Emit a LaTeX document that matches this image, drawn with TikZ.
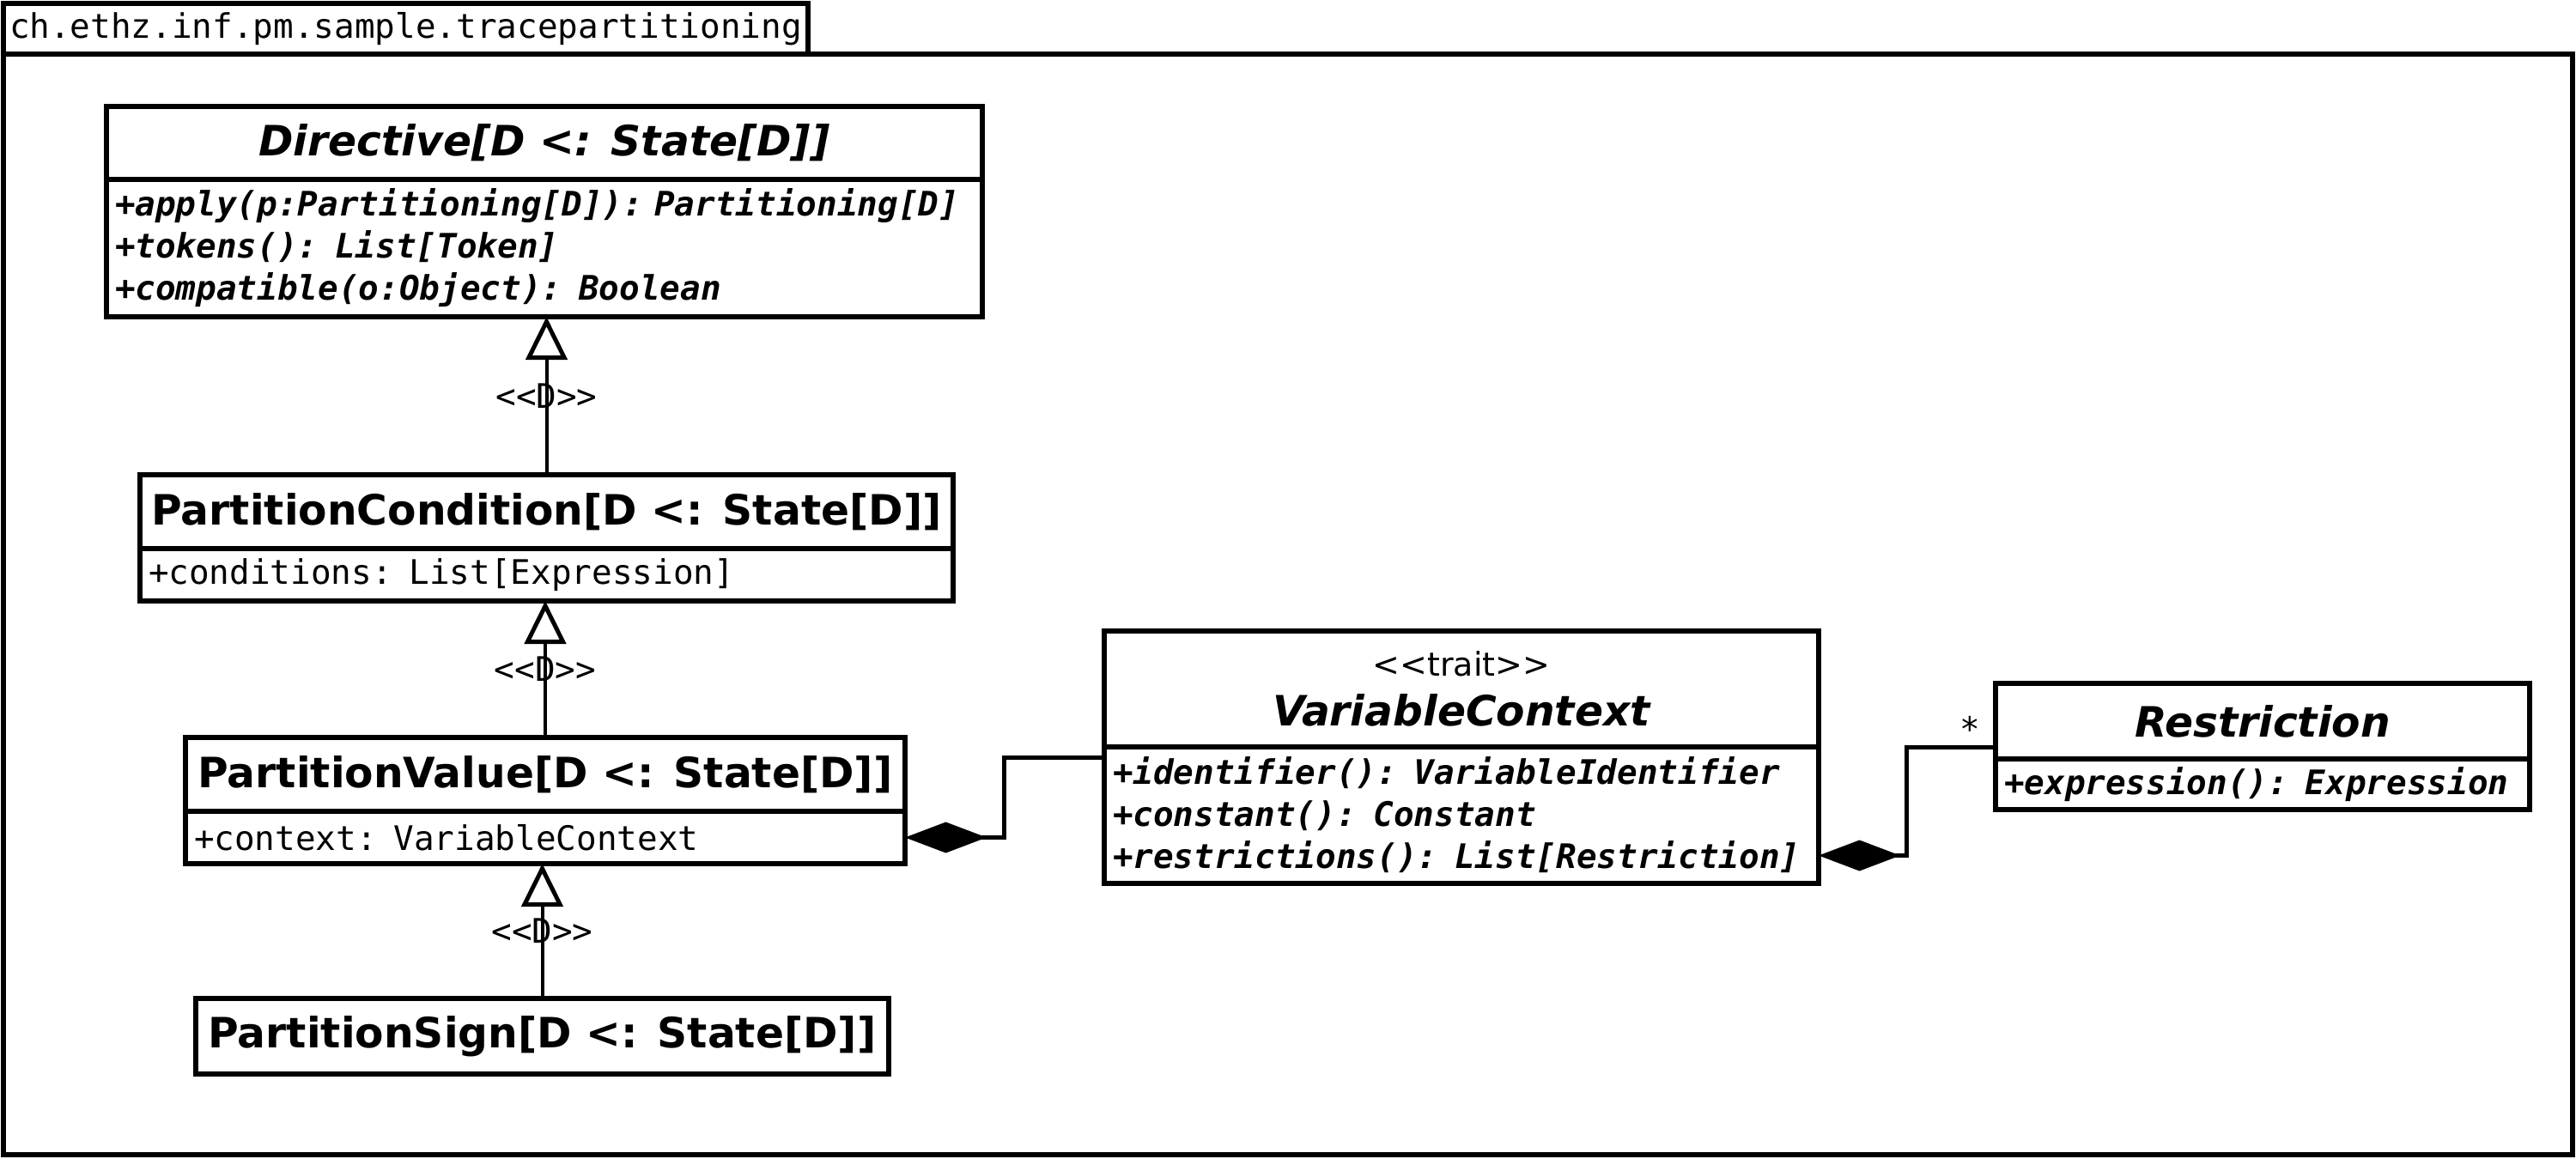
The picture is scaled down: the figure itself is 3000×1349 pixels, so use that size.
\documentclass[tikz,border=0pt]{standalone}
\usepackage{fontspec}
\setmainfont{DejaVu Sans}
\newfontfamily\umlmono{DejaVu Sans Mono}
\usetikzlibrary{arrows.meta,positioning}
\newcommand\stereo[1]{<\kern0pt<#1>\kern0pt>}
\newcommand\titlefont{\fontsize{48.7}{58}\selectfont\bfseries}
\newcommand\memberfont{\umlmono\fontsize{39.3}{49}\selectfont}

\begin{document}
\begin{tikzpicture}[x=1pt, y=-1pt,
  clsname/.style={draw, line width=5.5pt, outer sep=0pt, inner sep=0pt, minimum width=#1, minimum height=86pt, font=\titlefont, align=center},
  clsbody/.style={draw, line width=5.5pt, outer sep=0pt, inner xsep=10pt, inner ysep=0pt, text width=#1, minimum height=61pt, font=\memberfont, align=left},
  opsbody/.style={clsbody=#1, font=\memberfont\bfseries\itshape},
  pkgtab/.style={draw, line width=5.5pt, outer sep=0pt, inner xsep=7pt, inner ysep=0pt, minimum height=59pt, font=\memberfont},
  gen/.style={-{Triangle[open, length=50pt, width=48pt, line width=5pt]}, line width=4pt},
  comp/.style={{Diamond[length=95pt, width=36pt]}-, line width=5pt},
  lbl/.style={font=\memberfont, inner sep=0pt}]
\useasboundingbox (0,0) rectangle (3000,1349);
% package
\node[pkgtab, anchor=north west] (pkg) at (4,4) {ch.ethz.inf.pm.sample.tracepartitioning};
\draw[line width=5.5pt] (pkg.south west) rectangle (2996,1345);
% classes
\node[clsname=1020pt, minimum height=85pt] (dir) at (634,166.5) {\itshape Directive[D <: State[D]]};
\node[opsbody=1000pt, minimum height=160pt, below=0pt of dir] (dirops)
  {+apply(p:Partitioning[D]): Partitioning[D]\\+tokens(): List[Token]\\+compatible(o:Object): Boolean};
\node[clsname=947pt] (pc) at (636.5,596) {PartitionCondition[D <: State[D]]};
\node[clsbody=927pt, below=0pt of pc] (pcattr) {+conditions: List[Expression]};
\node[clsname=838pt] (pv) at (635,902) {PartitionValue[D <: State[D]]};
\node[clsbody=818pt, below=0pt of pv] (pvattr) {+context: VariableContext};
\node[clsname=807pt, minimum height=88pt] (ps) at (631.5,1207) {PartitionSign[D <: State[D]]};
\node[clsname=832pt, minimum height=135pt] (vc) at (1702,802.5)
  {{\fontsize{38}{46}\selectfont\mdseries\stereo{trait}}\\\itshape VariableContext};
\node[opsbody=812pt, minimum height=159pt, below=0pt of vc] (vcops)
  {+identifier(): VariableIdentifier\\+constant(): Constant\\+restrictions(): List[Restriction]};
\node[clsname=622pt, minimum height=88pt] (res) at (2635,840) {\itshape Restriction};
\node[opsbody=602pt, minimum height=59pt, below=0pt of res] (resops) {+expression(): Expression};
% generalisations
\draw[gen] (pc.north) -- (dirops.south -| pc.north) node[lbl, midway] {\stereo{D}};
\draw[gen] (pv.north) -- (pcattr.south -| pv.north) node[lbl, midway] {\stereo{D}};
\draw[gen] (ps.north) -- (pvattr.south -| ps.north) node[lbl, midway] {\stereo{D}};
% compositions
\draw[comp] (pvattr.east) -- ++(115,0) |- ([yshift=-12pt]vcops.north west);
\draw[comp] ([yshift=-47pt]vcops.east) -- ++(102,0) |- ([yshift=-30pt]res.west)
  node[lbl, anchor=south east, xshift=-15pt, yshift=4pt] {*};
\end{tikzpicture}
\end{document}
